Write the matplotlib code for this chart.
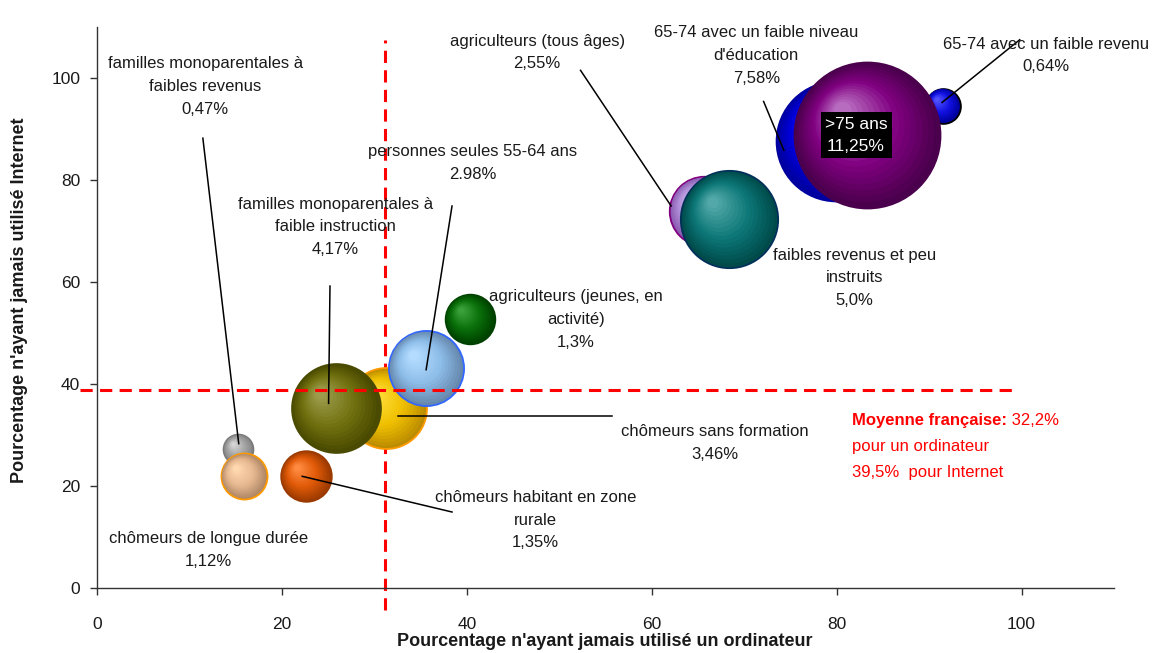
import numpy as np
import matplotlib
matplotlib.use("Agg")
import matplotlib.pyplot as plt
from matplotlib.colors import to_rgb
from matplotlib.transforms import offset_copy

plt.rcParams['font.family'] = ['Liberation Sans', 'DejaVu Sans']

# groupes : % n'ayant jamais utilise un ordinateur (x), Internet (y), poids (%)
groupes = ["familles monoparentales à\nfaibles revenus\n0,47%",
           "chômeurs de longue durée\n1,12%",
           "chômeurs habitant en zone\nrurale\n1,35%",
           "chômeurs sans formation\n3,46%",
           "familles monoparentales à\nfaible instruction\n4,17%",
           "personnes seules 55-64 ans\n2.98%",
           "agriculteurs (jeunes, en\nactivité)\n1,3%",
           "agriculteurs (tous âges)\n2,55%",
           "faibles revenus et peu\ninstruits\n5,0%",
           "65-74 avec un faible revenu\n0,64%",
           "65-74 avec un faible niveau\nd'éducation\n7,58%",
           ">75 ans\n11,25%"]
x_ordi = [15.3, 15.9, 22.6, 31.3, 25.8, 35.6, 40.3, 65.7, 68.4, 91.5, 79.9, 83.3]
y_net = [27.2, 21.9, 21.9, 35.2, 35.2, 43.1, 52.8, 73.9, 72.4, 94.6, 87.7, 88.8]
poids = [0.47, 1.12, 1.35, 3.46, 4.17, 2.98, 1.3, 2.55, 5.0, 0.64, 7.58, 11.25]

moy_ordi = 31.1
moy_net = 38.8

# couleurs : bord sombre, teinte, reflet clair, contour
sombre = ['#858585', '#b08866', '#a03c00', '#bb8c00', '#4a4a00', '#6688ad',
          '#004400', '#8a5ab0', '#004a4a', '#00009a', '#0000a0', '#4a004c']
teinte = ['#a6a6a6', '#e6b890', '#e05a08', '#f0c000', '#717110', '#8cbce8',
          '#0a700a', '#b090d8', '#0c7676', '#1010e0', '#0000e0', '#800080']
clair = ['#d4d4d4', '#ffd8b0', '#ff8a40', '#ffe040', '#9c9c4c', '#b4dcff',
         '#3aa03a', '#d0b8f0', '#52a8a8', '#5050ff', '#1414ff', '#b86cc0']
contour = ['#7a7a7a', '#ff9900', '#9a3a00', '#ff9900', '#4a4a00', '#3366ff',
           '#004000', '#800080', '#00305a', '#000000', '#0000a0', '#4a004c']

# position des etiquettes (centre) et traits de rappel
lab_x = [11.7, 12.1, 47.4, 66.8, 25.8, 40.6, 51.8, 47.6, 81.9, 102.6, 71.3, 82.1]
lab_y = [98.3, 7.4, 13.3, 28.5, 70.8, 83.3, 52.6, 105.0, 60.8, 104.4, 104.4, 88.8]
trait_debut = [(11.45, 88.2), None, (38.4, 14.9), (55.7, 33.8), (25.2, 59.2),
               (38.4, 74.9), None, (52.3, 101.5), None, (99.8, 107.5),
               (72.1, 95.4), None]
trait_fin = [(15.33, 28.3), None, (22.2, 21.9), (32.6, 33.8), (25.05, 36.2),
             (35.6, 42.8), None, (62.1, 74.9), None, (91.4, 95.2),
             (74.3, 85.8), None]
ordre = [1, 2, 3, 4, 5, 6, 5, 6, 7, 8, 9, 10]

fig = plt.figure(figsize=(11.58, 6.53), dpi=100)
ax = fig.add_axes([97/1158, 65/653, 1017/1158, 561/653])
ax.set_xlim(0, 110)
ax.set_ylim(0, 110)

echelle = 982.0  # points^2 par % de poids


def melange(c1, c2, t):
    a = np.array(to_rgb(c1))
    b = np.array(to_rgb(c2))
    return tuple(a + (b - a) * t)


def degrade(c0, c1, c2, t):
    if t < 0.45:
        return melange(c0, c1, t / 0.45)
    return melange(c1, c2, (t - 0.45) / 0.55)


def sphere(x, y, v, c0, c1, c2, c_bord, z):
    s = echelle * v
    r = np.sqrt(s) / 2
    n = 16
    for k in range(n):
        t = k / (n - 1)
        f = 1 - 0.88 * t
        d = (1 - f) * r * 0.38
        tr = offset_copy(ax.transData, fig=fig, x=-d, y=d, units='points')
        ax.scatter([x], [y], s=s * f * f, color=degrade(c0, c1, c2, t),
                   transform=tr, zorder=z + k * 0.01,
                   edgecolors=c_bord if k == 0 else 'none',
                   linewidths=1.3 if k == 0 else 0)


for i in range(len(poids)):
    sphere(x_ordi[i], y_net[i], poids[i], sombre[i], teinte[i], clair[i],
           contour[i], 3 + ordre[i])

# lignes de la moyenne francaise
ax.plot([moy_ordi, moy_ordi], [-4.3, 107.5], color='#ff0000', lw=2.2,
        ls=(0, (4, 2.4)), clip_on=False, zorder=2)
ax.plot([-1.8, 99.6], [moy_net, moy_net], color='#ff0000', lw=2.2,
        ls=(0, (4, 2.4)), clip_on=False, zorder=20)

# traits de rappel
for deb, fin in zip(trait_debut, trait_fin):
    if deb is None:
        continue
    ax.plot([deb[0], fin[0]], [deb[1], fin[1]], color='black', lw=1.1, zorder=30)

# etiquettes
for i, g in enumerate(groupes):
    if g.startswith('>75'):
        ax.text(lab_x[i], lab_y[i], g, ha='center', va='center', fontsize=12.5,
                color='white', linespacing=1.6, zorder=40,
                bbox=dict(facecolor='black', edgecolor='none', pad=3))
    else:
        ax.text(lab_x[i], lab_y[i], g, ha='center', va='center', fontsize=12,
                color='#1a1a1a', linespacing=1.65, zorder=40, clip_on=False)

# note sur la moyenne
t1 = ax.text(81.7, 32.9, "Moyenne française:", color='#ff0000', fontsize=12,
             fontweight='bold', va='center', ha='left', zorder=40)
ax.annotate(" 32,2%", xycoords=t1, xy=(1, 0), va='bottom', ha='left',
            color='#ff0000', fontsize=12, zorder=40)
ax.text(81.7, 27.8, "pour un ordinateur", color='#ff0000', fontsize=12,
        va='center', ha='left', zorder=40)
ax.text(81.7, 22.7, "39,5%  pour Internet", color='#ff0000', fontsize=12,
        va='center', ha='left', zorder=40)

# axes
ax.spines['top'].set_visible(False)
ax.spines['right'].set_visible(False)
for sp in ['left', 'bottom']:
    ax.spines[sp].set_color('#333333')
    ax.spines[sp].set_linewidth(1.0)
ax.set_xticks([0, 20, 40, 60, 80, 100])
ax.set_yticks([0, 20, 40, 60, 80, 100])
ax.tick_params(axis='both', direction='out', length=5, width=1, colors='#333333',
               labelsize=12.5, labelcolor='#1a1a1a')
ax.tick_params(axis='x', pad=16)
ax.tick_params(axis='y', pad=7)

fig.text(605/1158, 1 - 641/653, "Pourcentage n'ayant jamais utilisé un ordinateur",
         ha='center', va='center', fontsize=13, fontweight='bold', color='#1a1a1a')
fig.text(20/1158, 1 - 300/653, "Pourcentage n'ayant jamais utilisé Internet",
         ha='center', va='center', rotation=90, fontsize=13, fontweight='bold',
         color='#1a1a1a')

fig.savefig('out.png', dpi=100)
